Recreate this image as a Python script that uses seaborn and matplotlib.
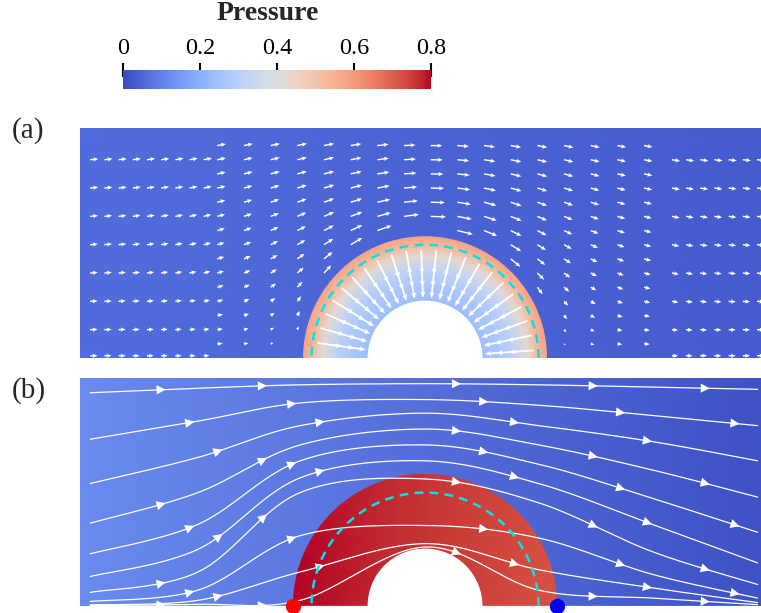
import numpy as np
import matplotlib
matplotlib.use("Agg")
import matplotlib.pyplot as plt
from matplotlib.patches import Wedge, FancyArrowPatch
import seaborn as sns

sns.set_theme(style="white")
plt.rcParams['font.family'] = ['Liberation Serif', 'DejaVu Serif']

# domain / porous ring geometry (domain units)
x_left, x_right = -3.04, 2.96
y_top_a, y_top_b = 2.03, 2.01
r_hole = 0.5
r_dash = 1.0
r_outer_a = 1.07
r_outer_b = 1.16

# pressure
p_bg_a = [0.06, 0.03]          # left edge, right edge
p_bg_b = [0.12, 0.01]
r_nodes_a = [0.5, 0.65, 0.8, 0.9, 0.98, 1.07]
p_nodes_a = [0.24, 0.27, 0.33, 0.42, 0.52, 0.58]
p_ring_b = [0.80, 0.72]        # left side of ring, right side of ring

# (a) velocity glyphs
U_a = 0.075                    # far-field glyph length
a_eff = 1.12                   # effective obstacle radius for the outer flow
r_glyph = [0.68, 0.82, 0.96]
inflow_a = [0.15, 0.19, 0.22]

# (b) streamlines: heights read at fixed stations
x_st = [-2.95, -2.0, -1.1, 0.0, 1.0, 2.0, 2.93]
stream_y = [
    [1.88, 1.92, 1.95, 1.96, 1.95, 1.93, 1.91],
    [1.47, 1.63, 1.79, 1.82, 1.77, 1.68, 1.59],
    [1.08, 1.31, 1.59, 1.70, 1.59, 1.45, 1.28],
    [0.73, 1.00, 1.42, 1.56, 1.42, 1.20, 0.96],
    [0.46, 0.72, 1.28, 1.42, 1.25, 0.95, 0.65],
    [0.26, 0.50, 1.13, 1.28, 1.08, 0.72, 0.38],
    [0.12, 0.30, 1.00, 1.12, 0.91, 0.48, 0.19],
    [0.04, 0.14, 0.62, 0.71, 0.60, 0.28, 0.07],
    [0.01, 0.05, 0.30, 0.55, 0.32, 0.16, 0.03],
    [0.004, 0.015, 0.05, 0.52, 0.14, 0.07, 0.012],
]

pressure_ticks = [0, 0.2, 0.4, 0.6, 0.8]
tick_labels = ['0', '0.2', '0.4', '0.6', '0.8']

cmap = sns.color_palette("coolwarm", as_cmap=True)
W, H = 761, 613
fig = plt.figure(figsize=(W / 100, H / 100), dpi=100)


def px_axes(x0, y0, x1, y1):
    return fig.add_axes([x0 / W, 1 - y1 / H, (x1 - x0) / W, (y1 - y0) / H])


def background(ax, ytop, p_lr):
    X = np.array([[x_left, x_right], [x_left, x_right]])
    Y = np.array([[0, 0], [ytop, ytop]])
    C = np.array([p_lr, p_lr])
    ax.pcolormesh(X, Y, C, shading='gouraud', cmap=cmap, vmin=0, vmax=0.8)


def dashed_ring(ax):
    t = np.linspace(0, np.pi, 200)
    ax.plot(r_dash * np.cos(t), r_dash * np.sin(t), color='#00e5e5', lw=1.8,
            dashes=(3.5, 2.5), zorder=4)


def smooth_curve(xp, yp, n=30):
    # cubic Bezier pieces through the read points (Catmull-Rom handles)
    P = np.column_stack([xp, yp])
    Pe = np.vstack([P[0], P, P[-1]])
    t = np.linspace(0, 1, n)[:, None]
    out = [P[:1]]
    for i in range(len(P) - 1):
        c1 = P[i] + (Pe[i + 2] - Pe[i]) / 6
        c2 = P[i + 1] - (Pe[i + 3] - Pe[i + 1]) / 6
        seg = ((1 - t) ** 3 * P[i] + 3 * (1 - t) ** 2 * t * c1
               + 3 * (1 - t) * t ** 2 * c2 + t ** 3 * P[i + 1])
        out.append(seg[1:])
    return np.vstack(out)


# ---------------- (a) ----------------
ax_a = px_axes(80, 128, 761, 358)
background(ax_a, y_top_a, p_bg_a)
theta = np.linspace(0, np.pi, 121)
R, T = np.meshgrid(r_nodes_a, theta)
C = np.broadcast_to(np.array(p_nodes_a), R.shape)
ax_a.pcolormesh(R * np.cos(T), R * np.sin(T), C, shading='gouraud',
                cmap=cmap, vmin=0, vmax=0.8)
ax_a.add_patch(Wedge((0, 0), r_hole, 0, 180, color='white', zorder=2))

# glyph positions: mesh is finer in y (coarser in x) near the ring
fx, fy = np.meshgrid(np.arange(-1.83, 2.01, 0.235), np.arange(0.125, 1.9, 0.125))
cx, cy = np.meshgrid(np.arange(-2.95, 2.95, 0.125), np.r_[0.02, np.arange(0.25, 1.8, 0.25)])
keep = (cx < -1.9) | (cx > 2.1)
gz = np.r_[fx.ravel(), cx[keep]] + 1j * np.r_[fy.ravel(), cy[keep]]
gz = gz[np.abs(gz) > r_outer_a + 0.08]
dw = U_a * (1 - a_eff ** 2 / gz ** 2)
ax_a.quiver(gz.real, gz.imag, dw.real, -dw.imag, color='white', angles='xy',
            scale_units='xy', scale=1, width=0.0021, headwidth=3,
            headlength=3.5, headaxislength=3, zorder=3)

tg = np.deg2rad(np.arange(4, 177, 8))
RG, TG = np.meshgrid(r_glyph, tg)
MG = np.broadcast_to(np.array(inflow_a), RG.shape)
ax_a.quiver(RG * np.cos(TG), RG * np.sin(TG), -MG * np.cos(TG), -MG * np.sin(TG),
            color='white', angles='xy', scale_units='xy', scale=1, width=0.0026,
            headwidth=3, headlength=3.5, headaxislength=3, zorder=3)
dashed_ring(ax_a)
ax_a.set_xlim(x_left, x_right)
ax_a.set_ylim(0, y_top_a)
ax_a.axis('off')

# ---------------- (b) ----------------
ax_b = px_axes(80, 378, 761, 606)
background(ax_b, y_top_b, p_bg_b)
rb = np.linspace(r_hole, r_outer_b, 8)
R, T = np.meshgrid(rb, theta)
Xr, Yr = R * np.cos(T), R * np.sin(T)
Cb = np.interp(Xr, [-r_outer_b, r_outer_b], p_ring_b)
ax_b.pcolormesh(Xr, Yr, Cb, shading='gouraud', cmap=cmap, vmin=0, vmax=0.8)
ax_b.add_patch(Wedge((0, 0), r_hole, 0, 180, color='white', zorder=2))

arrow_x = [-2.3, -1.4, 0.3, 1.5, 2.5]
for k, ys in enumerate(stream_y):
    pts = smooth_curve(x_st, ys)
    ax_b.plot(pts[:, 0], pts[:, 1], color='white', lw=0.9, zorder=3)
    for xa in arrow_x:
        xa = xa + 0.25 * (k % 3)
        if xa > x_st[-1] - 0.05:
            continue
        i = np.searchsorted(pts[:, 0], xa)
        ax_b.add_patch(FancyArrowPatch(pts[i - 1], pts[i],
                                       arrowstyle='-|>,head_length=0.6,head_width=0.3',
                                       mutation_scale=11, color='white', lw=0,
                                       zorder=4))
# bottom streamline running into the hole
ax_b.plot([x_st[0], -r_hole], [0.004, 0.004], color='white', lw=0.9, zorder=3)
ax_b.plot([r_hole, x_st[-1]], [0.004, 0.004], color='white', lw=0.9, zorder=3)

dashed_ring(ax_b)
ax_b.plot([-r_outer_b], [0], 'o', color='#ff0000', ms=10, clip_on=False, zorder=6)
ax_b.plot([r_outer_b], [0], 'o', color='#0000ee', ms=10, clip_on=False, zorder=6)
ax_b.set_xlim(x_left, x_right)
ax_b.set_ylim(0, y_top_b)
ax_b.axis('off')

# ---------------- colour bar ----------------
cax = px_axes(123, 70, 431, 89)
sm = plt.cm.ScalarMappable(cmap=cmap, norm=plt.Normalize(0, 0.8))
cb = fig.colorbar(sm, cax=cax, orientation='horizontal', ticks=pressure_ticks)
cb.outline.set_visible(False)
cax.xaxis.set_ticks_position('top')
cax.set_xticklabels(tick_labels)
cax.tick_params(axis='x', direction='inout', length=10, width=1.5, pad=3,
                labelsize=17.5, colors='black')
fig.text(268 / W, 1 - 14 / H, 'Pressure', ha='center', va='center',
         fontsize=20, fontweight='bold')

fig.text(12 / W, 1 - 131 / H, '(a)', ha='left', va='center', fontsize=21)
fig.text(12 / W, 1 - 391 / H, '(b)', ha='left', va='center', fontsize=21)

fig.savefig('out.png', dpi=100)
